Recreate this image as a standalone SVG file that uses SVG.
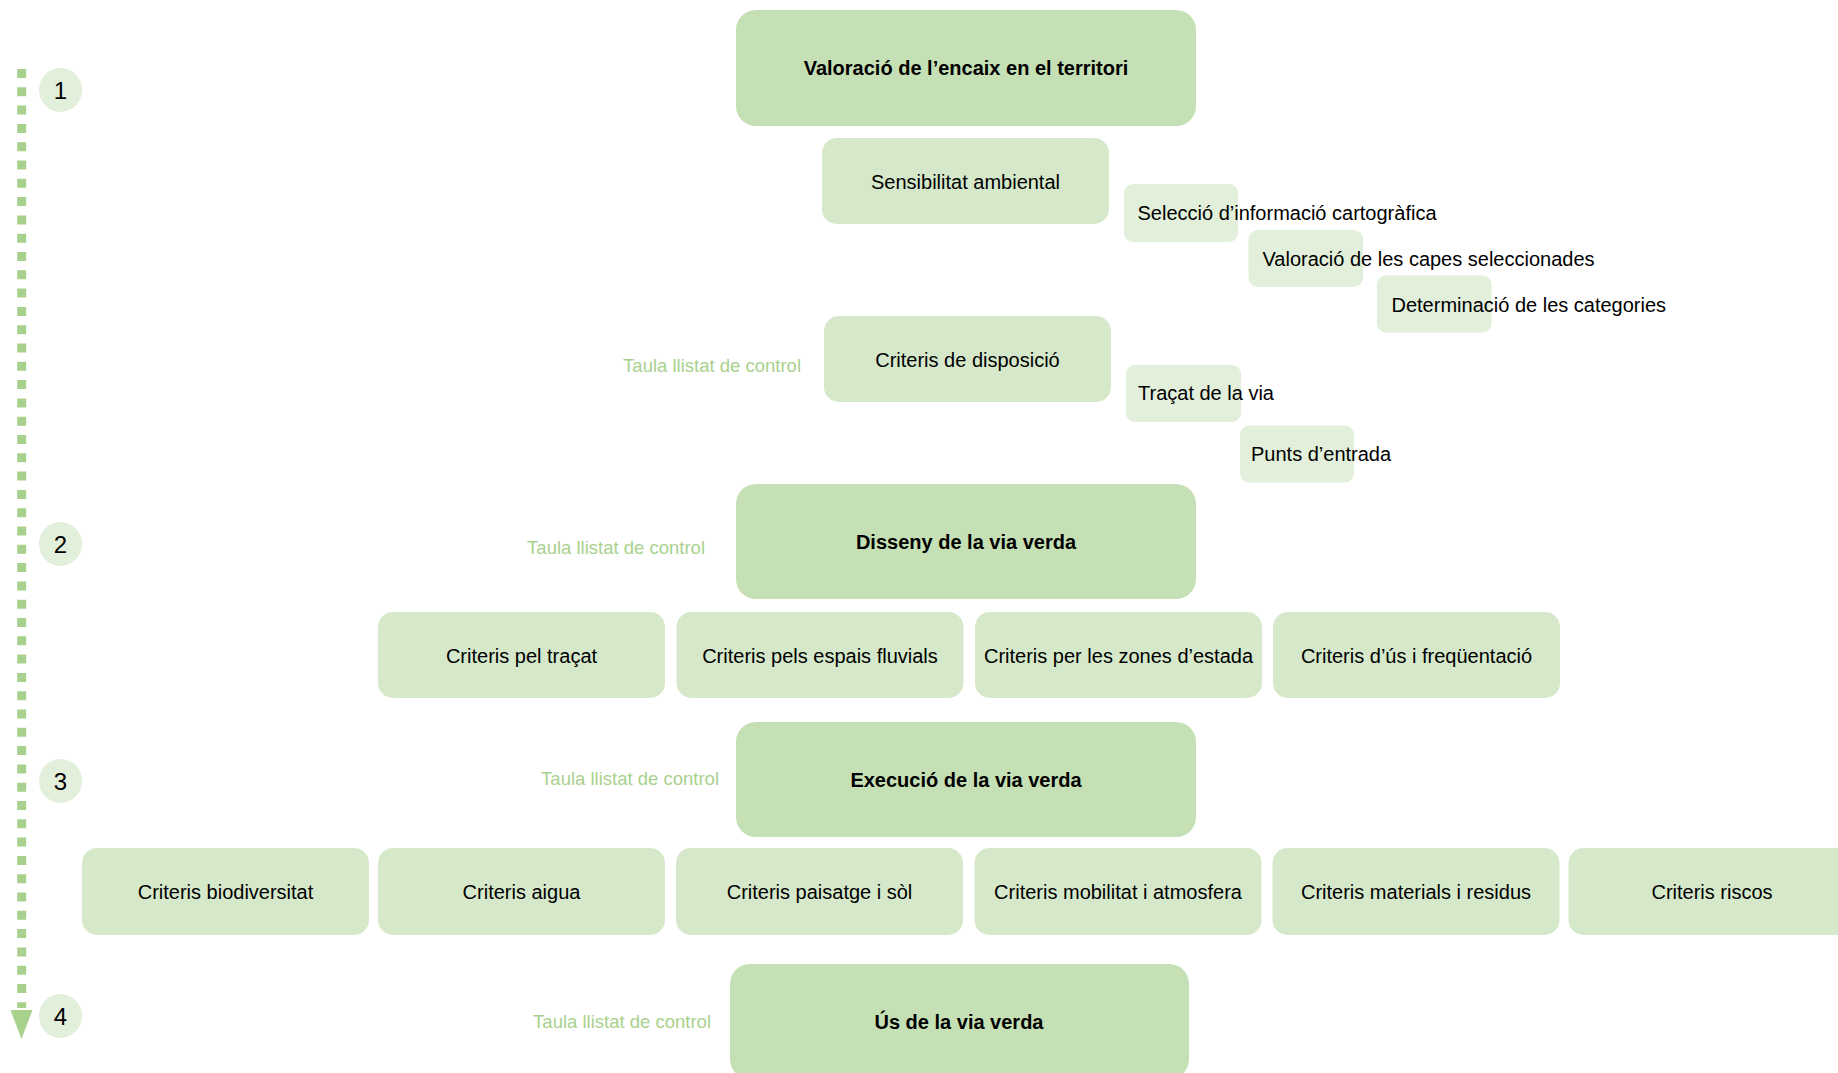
<svg xmlns="http://www.w3.org/2000/svg" width="1838" height="1073" viewBox="0 0 1838 1073">
<style>
text{font-family:"Liberation Sans",Arial,sans-serif;font-size:20px;fill:#000}
.big{fill:#c5e0b4}
.mid{fill:#d5e8ca}
.sml{fill:#e2efda}
.b{font-weight:bold}
.c{text-anchor:middle}
.ctl{font-size:18.5px;fill:#a9d18e;text-anchor:end}
.num{font-size:24px;text-anchor:middle}
.step{fill:#e2efda}
</style>
<rect width="1838" height="1073" fill="#fff"/>
<g id="connectors">
<line x1="21.7" y1="69" x2="21.7" y2="1008" stroke="#a9d18e" stroke-width="9" stroke-dasharray="9 9.3"/>
<polygon points="10.5,1010 32.5,1010 21.5,1039" fill="#a9d18e"/>
</g>
<g id="step1"><ellipse class="step" cx="60.5" cy="90" rx="21.5" ry="22"/><text class="num" x="60.5" y="98.5">1</text></g>
<g id="step2"><ellipse class="step" cx="60.5" cy="544" rx="21.5" ry="22"/><text class="num" x="60.5" y="552.5">2</text></g>
<g id="step3"><ellipse class="step" cx="60.5" cy="781" rx="21.5" ry="22"/><text class="num" x="60.5" y="789.5">3</text></g>
<g id="step4"><ellipse class="step" cx="60.5" cy="1016" rx="21.5" ry="22"/><text class="num" x="60.5" y="1024.5">4</text></g>

<g id="valoracio"><rect class="big" x="736" y="10" width="460" height="116" rx="20"/><text class="b c" x="966" y="75">Valoració de l’encaix en el territori</text></g>
<g id="sensibilitat"><rect class="mid" x="822" y="138" width="287" height="86" rx="15"/><text class="c" x="965.5" y="189">Sensibilitat ambiental</text></g>
<g id="seleccio"><rect class="sml" x="1124" y="184" width="114" height="58" rx="9"/><text x="1137.5" y="220">Selecció d’informació cartogràfica</text></g>
<g id="capes"><rect class="sml" x="1248.5" y="230" width="114.5" height="57" rx="9"/><text x="1262.5" y="266">Valoració de les capes seleccionades</text></g>
<g id="categories"><rect class="sml" x="1377" y="275.5" width="114.5" height="57" rx="9"/><text x="1391.5" y="311.5">Determinació de les categories</text></g>
<g id="disposicio"><rect class="mid" x="824" y="316" width="287" height="86" rx="15"/><text class="c" x="967.5" y="367">Criteris de disposició</text><text class="ctl" x="801" y="371.5">Taula llistat de control</text></g>
<g id="tracat"><rect class="sml" x="1126" y="365" width="115" height="57" rx="9"/><text x="1138" y="400">Traçat de la via</text></g>
<g id="punts"><rect class="sml" x="1240" y="425.5" width="114" height="57" rx="9"/><text x="1251" y="461">Punts d’entrada</text></g>

<g id="disseny"><rect class="big" x="736" y="484" width="460" height="115" rx="20"/><text class="b c" x="966" y="549">Disseny de la via verda</text><text class="ctl" x="705" y="554">Taula llistat de control</text></g>
<g id="r2a"><rect class="mid" x="378" y="612" width="287" height="86" rx="15"/><text class="c" x="521.5" y="663">Criteris pel traçat</text></g>
<g id="r2b"><rect class="mid" x="676.5" y="612" width="287" height="86" rx="15"/><text class="c" x="820" y="663">Criteris pels espais fluvials</text></g>
<g id="r2c"><rect class="mid" x="975" y="612" width="287" height="86" rx="15"/><text class="c" x="1118.5" y="663">Criteris per les zones d’estada</text></g>
<g id="r2d"><rect class="mid" x="1273" y="612" width="287" height="86" rx="15"/><text class="c" x="1416.5" y="663">Criteris d’ús i freqüentació</text></g>

<g id="execucio"><rect class="big" x="736" y="722" width="460" height="115" rx="20"/><text class="b c" x="966" y="787">Execució de la via verda</text><text class="ctl" x="719" y="784.5">Taula llistat de control</text></g>
<g id="r3a"><rect class="mid" x="82" y="848" width="287" height="87" rx="15"/><text class="c" x="225.5" y="899">Criteris biodiversitat</text></g>
<g id="r3b"><rect class="mid" x="378" y="848" width="287" height="87" rx="15"/><text class="c" x="521.5" y="899">Criteris aigua</text></g>
<g id="r3c"><rect class="mid" x="676" y="848" width="287" height="87" rx="15"/><text class="c" x="819.5" y="899">Criteris paisatge i sòl</text></g>
<g id="r3d"><rect class="mid" x="974.5" y="848" width="287" height="87" rx="15"/><text class="c" x="1118" y="899">Criteris mobilitat i atmosfera</text></g>
<g id="r3e"><rect class="mid" x="1272.5" y="848" width="287" height="87" rx="15"/><text class="c" x="1416" y="899">Criteris materials i residus</text></g>
<g id="r3f"><rect class="mid" x="1568.5" y="848" width="287" height="87" rx="15"/><text class="c" x="1712" y="899">Criteris riscos</text></g>

<g id="us"><rect class="big" x="730" y="964" width="459" height="115" rx="20"/><text class="b c" x="959" y="1029">Ús de la via verda</text><text class="ctl" x="711" y="1027.5">Taula llistat de control</text></g>
</svg>
